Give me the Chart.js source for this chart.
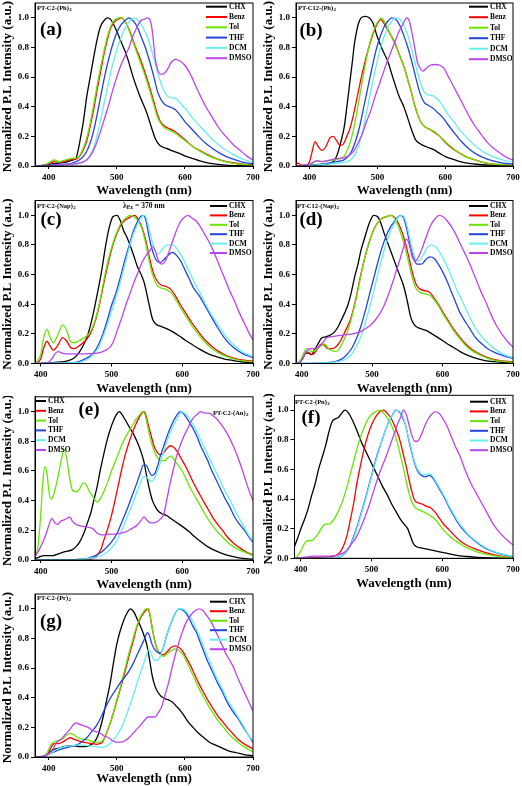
<!DOCTYPE html>
<html>
<head>
<meta charset="utf-8">
<script src="https://cdn.jsdelivr.net/npm/chart.js@4.4.0/dist/chart.umd.min.js"></script>
<style>
  body { margin: 0; background: #fff; width: 522px; height: 786px; position: relative; overflow: hidden; }
  canvas { position: absolute; }
</style>
</head>
<body>
<canvas id="pa"></canvas>
<canvas id="pb"></canvas>
<canvas id="pc"></canvas>
<canvas id="pd"></canvas>
<canvas id="pe"></canvas>
<canvas id="pf"></canvas>
<canvas id="pg"></canvas>
<script>
// solvents / legend
const solvents = ['CHX', 'Benz', 'Tol', 'THF', 'DCM', 'DMSO'];
const solventColors = ['#000000', '#ff0000', '#66e600', '#2244dd', '#66eeee', '#bb44ee'];
const xTicks = [400, 500, 600, 700];
const yTicks = [0, 0.2, 0.4, 0.6, 0.8, 1.0];
const panelNames = ['PT-C2-(Ph)', 'PT-C12-(Ph)', 'PT-C2-(Nap)', 'PT-C12-(Nap)', 'PT-C2-(An)', 'PT-C2-(Pn)', 'PT-C2-(Pr)'];
const panelLetters = ['(a)', '(b)', '(c)', '(d)', '(e)', '(f)', '(g)'];

// (a) PT-C2-(Ph)2  [wavelength nm, normalized PL]
const a_CHX = [[380,0],[395,0.005],[405,0.015],[415,0.02],[425,0.025],[435,0.04],[440,0.05],[443,0.1],[446,0.17],[451,0.3],[456,0.47],[461,0.6],[466,0.73],[471,0.85],[476,0.94],[481,0.98],[486,1.0],[491,0.99],[500,0.91],[508,0.82],[515,0.74],[524,0.6],[534,0.47],[544,0.36],[551,0.26],[557,0.18],[563,0.14],[572,0.12],[583,0.1],[592,0.085],[602,0.065],[612,0.05],[622,0.035],[635,0.02],[646,0.012],[660,0.006],[680,0.002],[700,0]];
const a_Benz = [[380,0],[395,0.005],[405,0.025],[410,0.035],[418,0.025],[425,0.035],[435,0.045],[442,0.05],[450,0.1],[456,0.17],[461,0.27],[466,0.38],[471,0.51],[476,0.63],[481,0.75],[486,0.85],[491,0.93],[496,0.97],[502,0.99],[507,1.0],[513,0.97],[520,0.9],[526,0.82],[533,0.74],[540,0.65],[547,0.55],[554,0.44],[559,0.36],[564,0.3],[570,0.27],[578,0.25],[585,0.235],[592,0.21],[602,0.17],[612,0.13],[622,0.105],[634,0.075],[646,0.05],[658,0.033],[670,0.022],[685,0.012],[700,0.007]];
const a_Tol = [[380,0],[395,0.008],[403,0.03],[408,0.042],[414,0.03],[420,0.035],[428,0.045],[435,0.052],[442,0.055],[450,0.11],[456,0.19],[461,0.29],[466,0.41],[471,0.54],[476,0.66],[481,0.77],[486,0.87],[491,0.94],[496,0.98],[502,1.0],[508,1.0],[514,0.96],[520,0.89],[526,0.81],[533,0.72],[540,0.63],[547,0.53],[554,0.42],[559,0.34],[564,0.29],[570,0.26],[578,0.24],[585,0.225],[592,0.2],[602,0.165],[612,0.13],[622,0.1],[634,0.07],[646,0.048],[658,0.032],[670,0.02],[685,0.01],[700,0.005]];
const a_THF = [[380,0],[400,0.005],[420,0.01],[435,0.02],[445,0.04],[452,0.07],[458,0.12],[464,0.2],[470,0.32],[476,0.46],[482,0.6],[488,0.72],[494,0.82],[500,0.9],[506,0.95],[512,0.98],[518,1.0],[524,0.98],[530,0.94],[536,0.87],[542,0.8],[548,0.71],[554,0.61],[560,0.5],[566,0.44],[572,0.41],[580,0.395],[586,0.38],[592,0.35],[600,0.3],[610,0.25],[620,0.2],[630,0.155],[640,0.12],[650,0.09],[660,0.065],[672,0.045],[686,0.025],[700,0.015]];
const a_DCM = [[380,0],[400,0.003],[430,0.01],[445,0.02],[455,0.04],[462,0.08],[468,0.15],[474,0.26],[480,0.39],[486,0.52],[492,0.65],[498,0.75],[504,0.84],[510,0.91],[516,0.96],[522,0.99],[526,1.0],[532,0.98],[538,0.94],[544,0.88],[550,0.8],[556,0.7],[562,0.6],[568,0.52],[575,0.47],[582,0.46],[588,0.45],[594,0.42],[602,0.38],[612,0.32],[622,0.27],[632,0.22],[645,0.16],[658,0.115],[672,0.075],[686,0.045],[700,0.025]];
const a_DMSO = [[380,0],[400,0.003],[420,0.008],[435,0.012],[445,0.02],[452,0.03],[458,0.05],[464,0.09],[470,0.15],[476,0.23],[482,0.32],[488,0.41],[494,0.51],[500,0.6],[506,0.68],[512,0.74],[518,0.8],[524,0.88],[530,0.94],[535,0.98],[540,0.99],[545,1.0],[550,0.97],[553,0.88],[556,0.74],[560,0.65],[564,0.62],[568,0.62],[574,0.65],[580,0.7],[586,0.72],[592,0.71],[600,0.68],[608,0.62],[616,0.54],[624,0.46],[632,0.39],[640,0.33],[648,0.27],[656,0.22],[664,0.18],[672,0.14],[680,0.11],[690,0.07],[700,0.04]];

// (b) PT-C12-(Ph)2
const b_CHX = [[380,0],[400,0.005],[420,0.01],[432,0.02],[437,0.04],[441,0.08],[446,0.16],[451,0.26],[455,0.4],[459,0.55],[463,0.7],[466,0.82],[469,0.9],[472,0.96],[476,1.0],[482,1.01],[488,1.0],[493,0.97],[500,0.87],[507,0.79],[515,0.71],[524,0.58],[532,0.47],[539,0.4],[545,0.32],[550,0.25],[556,0.18],[563,0.15],[572,0.13],[583,0.11],[592,0.085],[602,0.06],[612,0.045],[622,0.03],[635,0.018],[650,0.01],[670,0.004],[700,0]];
const b_Benz = [[380,0.01],[383,0.02],[388,0.005],[395,0.005],[400,0.03],[404,0.1],[408,0.165],[413,0.13],[418,0.105],[424,0.13],[430,0.19],[435,0.2],[440,0.17],[445,0.14],[450,0.15],[455,0.2],[460,0.26],[465,0.35],[470,0.46],[475,0.57],[480,0.67],[485,0.76],[490,0.84],[495,0.91],[500,0.96],[505,0.99],[510,0.96],[515,0.92],[520,0.88],[525,0.84],[530,0.78],[535,0.72],[540,0.66],[545,0.58],[550,0.5],[555,0.41],[560,0.34],[565,0.29],[570,0.265],[578,0.245],[585,0.225],[592,0.2],[600,0.16],[610,0.12],[620,0.09],[632,0.06],[645,0.04],[660,0.02],[680,0.01],[700,0.005]];
const b_Tol = [[380,0],[395,0.003],[405,0.02],[410,0.035],[418,0.03],[425,0.035],[435,0.04],[445,0.05],[450,0.06],[455,0.1],[460,0.16],[465,0.25],[470,0.37],[475,0.5],[480,0.63],[485,0.75],[490,0.85],[495,0.92],[500,0.97],[506,1.0],[512,0.96],[518,0.9],[524,0.84],[530,0.78],[535,0.72],[540,0.66],[545,0.58],[550,0.5],[555,0.41],[560,0.34],[565,0.29],[570,0.265],[578,0.245],[585,0.23],[592,0.2],[600,0.165],[610,0.125],[620,0.09],[632,0.06],[645,0.04],[660,0.02],[680,0.01],[700,0.005]];
const b_THF = [[380,0],[400,0.005],[420,0.015],[440,0.03],[450,0.04],[456,0.06],[462,0.1],[468,0.17],[474,0.27],[480,0.4],[486,0.53],[492,0.66],[498,0.78],[504,0.87],[510,0.94],[516,0.98],[521,1.0],[527,0.99],[533,0.95],[539,0.88],[545,0.8],[551,0.7],[557,0.59],[563,0.49],[569,0.43],[575,0.41],[582,0.39],[589,0.36],[596,0.33],[604,0.28],[614,0.22],[624,0.165],[634,0.12],[646,0.08],[660,0.05],[680,0.025],[700,0.012]];
const b_DCM = [[380,0],[400,0.005],[430,0.015],[450,0.025],[460,0.04],[466,0.07],[472,0.13],[478,0.23],[484,0.36],[490,0.5],[496,0.63],[502,0.75],[508,0.85],[514,0.92],[520,0.97],[527,1.0],[533,0.99],[539,0.95],[545,0.88],[551,0.78],[557,0.67],[563,0.57],[569,0.5],[575,0.48],[582,0.475],[589,0.45],[596,0.41],[604,0.35],[614,0.29],[624,0.23],[634,0.18],[646,0.13],[660,0.085],[672,0.06],[686,0.04],[700,0.025]];
const b_DMSO = [[380,0],[395,0.005],[405,0.025],[410,0.035],[418,0.03],[430,0.04],[440,0.05],[450,0.055],[458,0.07],[465,0.1],[472,0.16],[478,0.22],[484,0.3],[490,0.37],[496,0.46],[502,0.54],[508,0.62],[514,0.7],[520,0.77],[526,0.84],[532,0.91],[538,0.96],[543,1.0],[547,0.98],[551,0.9],[555,0.8],[559,0.7],[563,0.66],[567,0.64],[572,0.66],[578,0.68],[585,0.685],[592,0.68],[598,0.66],[605,0.6],[612,0.54],[620,0.47],[628,0.4],[636,0.33],[644,0.27],[652,0.22],[660,0.17],[670,0.125],[680,0.09],[690,0.06],[700,0.04]];

// (c) PT-C2-(Nap)2
const c_CHX = [[392,0],[405,0.003],[420,0.008],[435,0.015],[445,0.03],[452,0.06],[460,0.12],[467,0.2],[474,0.33],[480,0.47],[486,0.62],[492,0.8],[497,0.92],[502,0.99],[508,1.0],[512,0.97],[517,0.9],[522,0.85],[527,0.79],[532,0.72],[537,0.65],[542,0.6],[546,0.55],[550,0.47],[554,0.38],[558,0.3],[563,0.265],[570,0.25],[578,0.235],[588,0.21],[596,0.185],[605,0.155],[615,0.125],[625,0.095],[637,0.065],[649,0.045],[660,0.03],[672,0.02],[686,0.01],[700,0.005]];
const c_Benz = [[392,0],[400,0.03],[404,0.1],[409,0.15],[413,0.12],[418,0.09],[424,0.12],[431,0.175],[437,0.15],[442,0.11],[447,0.1],[453,0.115],[460,0.14],[466,0.17],[472,0.22],[478,0.3],[484,0.42],[490,0.56],[496,0.69],[502,0.8],[508,0.88],[514,0.94],[520,0.97],[527,0.99],[533,1.0],[538,0.97],[543,0.92],[548,0.84],[553,0.73],[558,0.63],[564,0.56],[570,0.53],[577,0.52],[584,0.5],[590,0.46],[597,0.4],[605,0.34],[613,0.28],[622,0.22],[632,0.16],[642,0.115],[652,0.08],[664,0.05],[678,0.03],[700,0.015]];
const c_Tol = [[392,0],[400,0.06],[404,0.17],[409,0.23],[413,0.18],[418,0.14],[424,0.19],[431,0.26],[437,0.22],[442,0.15],[447,0.14],[453,0.15],[460,0.17],[466,0.19],[472,0.23],[478,0.31],[484,0.43],[490,0.58],[496,0.71],[502,0.81],[508,0.89],[514,0.95],[520,0.98],[526,1.0],[532,0.99],[538,0.96],[543,0.91],[548,0.82],[553,0.7],[558,0.6],[564,0.53],[570,0.51],[577,0.5],[584,0.48],[590,0.44],[597,0.38],[605,0.32],[613,0.26],[622,0.2],[632,0.145],[642,0.1],[652,0.07],[664,0.045],[678,0.025],[700,0.01]];
const c_THF = [[392,0],[420,0.002],[445,0.005],[455,0.015],[462,0.03],[470,0.05],[476,0.08],[482,0.13],[488,0.2],[494,0.29],[500,0.39],[506,0.47],[512,0.57],[518,0.68],[524,0.78],[530,0.88],[536,0.95],[541,0.99],[545,1.0],[549,0.96],[553,0.86],[558,0.76],[563,0.7],[568,0.68],[574,0.7],[580,0.73],[586,0.75],[592,0.73],[598,0.69],[604,0.63],[610,0.57],[616,0.51],[625,0.45],[637,0.35],[649,0.25],[660,0.17],[672,0.11],[686,0.065],[700,0.04]];
const c_DCM = [[392,0],[420,0.002],[450,0.005],[460,0.015],[470,0.04],[476,0.07],[482,0.11],[488,0.18],[494,0.26],[500,0.35],[506,0.44],[512,0.54],[518,0.65],[524,0.76],[530,0.86],[536,0.93],[541,0.98],[547,1.0],[551,0.95],[556,0.85],[561,0.77],[566,0.74],[572,0.77],[578,0.8],[584,0.8],[590,0.79],[596,0.75],[602,0.7],[608,0.64],[614,0.58],[620,0.52],[626,0.47],[632,0.41],[640,0.34],[648,0.28],[656,0.22],[664,0.17],[674,0.12],[686,0.075],[700,0.045]];
const c_DMSO = [[392,0],[405,0.003],[412,0.01],[417,0.04],[421,0.07],[425,0.08],[430,0.07],[436,0.065],[445,0.065],[455,0.065],[465,0.065],[475,0.068],[485,0.075],[492,0.09],[498,0.11],[503,0.15],[508,0.22],[514,0.3],[520,0.39],[526,0.47],[532,0.55],[538,0.62],[544,0.69],[549,0.73],[554,0.76],[558,0.79],[562,0.76],[566,0.7],[571,0.67],[576,0.69],[581,0.75],[586,0.82],[592,0.9],[598,0.96],[604,0.99],[608,1.0],[614,0.98],[620,0.96],[626,0.92],[632,0.87],[638,0.82],[644,0.76],[650,0.69],[656,0.62],[662,0.55],[668,0.48],[674,0.42],[680,0.35],[688,0.27],[695,0.2],[700,0.16]];

// (d) PT-C12-(Nap)2
const d_CHX = [[392,0],[398,0.01],[402,0.04],[406,0.07],[410,0.07],[414,0.06],[418,0.09],[423,0.13],[428,0.17],[434,0.18],[440,0.19],[446,0.21],[452,0.25],[456,0.29],[461,0.34],[466,0.4],[471,0.49],[475,0.58],[480,0.67],[484,0.76],[489,0.84],[494,0.92],[498,0.97],[502,1.0],[508,0.99],[513,0.94],[517,0.88],[524,0.79],[531,0.7],[538,0.61],[545,0.52],[550,0.42],[555,0.31],[560,0.26],[566,0.24],[572,0.23],[578,0.22],[585,0.2],[592,0.18],[600,0.155],[606,0.135],[615,0.11],[625,0.08],[636,0.055],[648,0.035],[660,0.02],[672,0.012],[686,0.007],[700,0.004]];
const d_Benz = [[392,0],[398,0.01],[403,0.05],[407,0.08],[411,0.07],[415,0.06],[420,0.08],[428,0.13],[433,0.12],[437,0.1],[443,0.1],[448,0.11],[452,0.13],[456,0.16],[462,0.22],[468,0.28],[472,0.34],[478,0.46],[484,0.6],[490,0.72],[496,0.82],[502,0.9],[508,0.95],[514,0.98],[520,0.99],[527,1.0],[533,0.98],[538,0.94],[543,0.88],[548,0.8],[553,0.7],[558,0.6],[563,0.53],[569,0.5],[576,0.49],[582,0.48],[588,0.44],[594,0.4],[600,0.35],[608,0.29],[616,0.23],[624,0.18],[632,0.135],[642,0.095],[652,0.065],[664,0.04],[678,0.022],[700,0.01]];
const d_Tol = [[392,0],[398,0.02],[403,0.07],[407,0.1],[411,0.09],[415,0.08],[420,0.09],[428,0.12],[433,0.13],[438,0.1],[444,0.085],[448,0.08],[452,0.09],[456,0.12],[462,0.18],[468,0.26],[472,0.33],[478,0.45],[484,0.59],[490,0.72],[496,0.82],[502,0.9],[508,0.95],[514,0.98],[520,0.99],[526,1.0],[532,0.98],[537,0.93],[542,0.86],[547,0.78],[552,0.68],[557,0.58],[562,0.51],[568,0.48],[575,0.47],[582,0.46],[588,0.43],[594,0.39],[600,0.34],[608,0.28],[616,0.22],[624,0.17],[632,0.125],[642,0.085],[652,0.06],[664,0.035],[678,0.018],[700,0.008]];
const d_THF = [[392,0],[420,0.003],[440,0.008],[452,0.02],[460,0.04],[466,0.07],[472,0.11],[478,0.17],[484,0.25],[490,0.35],[496,0.46],[502,0.57],[508,0.68],[514,0.78],[520,0.86],[526,0.92],[532,0.96],[537,0.99],[541,1.0],[545,0.98],[549,0.91],[554,0.8],[559,0.71],[564,0.67],[570,0.67],[576,0.7],[582,0.72],[588,0.71],[594,0.67],[600,0.62],[606,0.56],[612,0.49],[618,0.42],[624,0.35],[630,0.3],[638,0.24],[646,0.18],[654,0.14],[664,0.1],[676,0.07],[688,0.05],[700,0.035]];
const d_DCM = [[392,0],[420,0.003],[445,0.008],[458,0.02],[466,0.04],[472,0.07],[478,0.12],[484,0.18],[490,0.27],[496,0.37],[502,0.48],[508,0.6],[514,0.71],[520,0.81],[526,0.89],[532,0.95],[538,0.99],[543,1.0],[547,0.97],[551,0.9],[556,0.79],[561,0.71],[566,0.69],[572,0.73],[578,0.78],[584,0.8],[590,0.79],[596,0.75],[602,0.7],[608,0.64],[614,0.57],[620,0.5],[626,0.44],[632,0.38],[640,0.3],[648,0.23],[656,0.18],[666,0.13],[678,0.085],[690,0.055],[700,0.04]];
const d_DMSO = [[392,0],[398,0.01],[403,0.05],[408,0.09],[412,0.1],[418,0.1],[424,0.11],[430,0.14],[435,0.17],[440,0.18],[448,0.185],[456,0.19],[464,0.195],[472,0.2],[480,0.21],[486,0.22],[492,0.24],[498,0.26],[504,0.29],[510,0.33],[516,0.38],[522,0.45],[528,0.53],[534,0.62],[540,0.71],[545,0.79],[549,0.84],[553,0.8],[557,0.72],[561,0.69],[566,0.72],[572,0.79],[578,0.87],[584,0.94],[590,0.98],[595,1.0],[601,0.99],[607,0.96],[613,0.92],[619,0.87],[625,0.81],[631,0.75],[637,0.69],[643,0.62],[649,0.55],[655,0.48],[661,0.42],[668,0.34],[676,0.26],[684,0.2],[692,0.15],[700,0.11]];

// (e) PT-C2-(An)2
const e_CHX = [[392,0.01],[398,0.02],[404,0.03],[410,0.03],[418,0.03],[424,0.04],[430,0.05],[438,0.06],[445,0.07],[450,0.09],[455,0.12],[461,0.18],[466,0.25],[471,0.32],[475,0.4],[480,0.5],[484,0.6],[489,0.71],[494,0.81],[499,0.89],[503,0.94],[507,0.98],[511,1.0],[515,0.98],[520,0.94],[526,0.89],[531,0.85],[536,0.8],[541,0.74],[546,0.66],[550,0.56],[554,0.47],[558,0.4],[562,0.36],[566,0.33],[572,0.31],[578,0.3],[584,0.28],[590,0.26],[596,0.24],[602,0.22],[610,0.19],[618,0.155],[626,0.125],[636,0.09],[646,0.065],[656,0.045],[666,0.03],[680,0.015],[700,0.005]];
const e_Benz = [[392,0],[450,0],[470,0.005],[476,0.015],[480,0.035],[485,0.07],[489,0.13],[494,0.2],[499,0.28],[504,0.38],[509,0.49],[514,0.6],[519,0.7],[524,0.78],[529,0.85],[534,0.91],[539,0.96],[543,0.99],[546,1.0],[549,0.97],[552,0.91],[556,0.84],[560,0.77],[564,0.73],[568,0.71],[573,0.72],[578,0.75],[583,0.77],[588,0.76],[593,0.73],[599,0.68],[606,0.62],[612,0.56],[618,0.5],[625,0.44],[632,0.38],[638,0.33],[644,0.28],[650,0.24],[657,0.2],[663,0.16],[670,0.125],[676,0.1],[682,0.08],[690,0.055],[700,0.035]];
const e_Tol = [[392,0.02],[396,0.08],[400,0.3],[403,0.52],[406,0.63],[409,0.58],[412,0.45],[415,0.41],[419,0.45],[424,0.55],[429,0.67],[433,0.74],[437,0.68],[441,0.55],[445,0.47],[450,0.46],[455,0.48],[460,0.52],[464,0.51],[468,0.47],[472,0.44],[476,0.41],[480,0.39],[485,0.42],[490,0.47],[495,0.53],[500,0.6],[505,0.66],[510,0.72],[515,0.78],[520,0.83],[525,0.87],[530,0.91],[535,0.95],[540,0.98],[544,1.0],[548,0.97],[552,0.88],[556,0.8],[560,0.74],[565,0.69],[570,0.67],[575,0.67],[580,0.69],[584,0.7],[588,0.68],[594,0.64],[600,0.6],[606,0.54],[612,0.48],[618,0.43],[625,0.37],[632,0.31],[640,0.25],[648,0.2],[656,0.16],[664,0.12],[672,0.09],[680,0.07],[690,0.05],[700,0.03]];
const e_THF = [[392,0],[440,0],[455,0.005],[465,0.01],[475,0.025],[485,0.05],[492,0.08],[500,0.12],[508,0.18],[515,0.26],[522,0.34],[529,0.43],[536,0.52],[541,0.59],[545,0.64],[549,0.64],[553,0.6],[557,0.57],[561,0.58],[565,0.63],[569,0.7],[574,0.77],[579,0.84],[584,0.9],[589,0.95],[593,0.98],[597,1.0],[601,0.99],[606,0.96],[611,0.92],[616,0.88],[621,0.83],[626,0.77],[631,0.72],[636,0.67],[641,0.61],[646,0.56],[653,0.49],[660,0.42],[667,0.36],[674,0.29],[681,0.24],[688,0.2],[695,0.15],[700,0.12]];
const e_DCM = [[392,0],[445,0],[460,0.005],[470,0.01],[480,0.02],[490,0.04],[498,0.07],[505,0.11],[512,0.17],[518,0.24],[524,0.31],[530,0.38],[536,0.46],[541,0.52],[545,0.56],[549,0.56],[553,0.54],[557,0.53],[561,0.55],[565,0.6],[570,0.67],[575,0.75],[580,0.82],[585,0.88],[590,0.93],[595,0.97],[599,1.0],[603,0.99],[608,0.97],[613,0.93],[618,0.89],[623,0.84],[628,0.79],[633,0.74],[638,0.69],[643,0.64],[648,0.59],[655,0.52],[662,0.45],[669,0.39],[676,0.32],[683,0.26],[690,0.2],[695,0.16],[700,0.13]];
const e_DMSO = [[392,0.02],[398,0.07],[403,0.12],[408,0.18],[412,0.24],[416,0.28],[420,0.25],[424,0.24],[428,0.26],[433,0.27],[437,0.28],[441,0.29],[445,0.26],[450,0.24],[456,0.23],[462,0.225],[468,0.22],[474,0.21],[480,0.18],[486,0.17],[492,0.17],[498,0.175],[505,0.175],[512,0.18],[520,0.19],[528,0.21],[535,0.23],[541,0.26],[546,0.29],[550,0.27],[555,0.25],[560,0.25],[565,0.26],[570,0.28],[574,0.31],[578,0.4],[583,0.52],[588,0.62],[592,0.7],[597,0.77],[602,0.83],[607,0.88],[611,0.92],[616,0.96],[621,0.98],[626,1.0],[632,0.99],[638,0.99],[644,0.97],[649,0.95],[654,0.92],[660,0.88],[666,0.83],[672,0.77],[678,0.7],[684,0.62],[690,0.53],[695,0.46],[700,0.4]];

// (f) PT-C2-(Pn)2
const f_CHX = [[391,0.08],[395,0.13],[400,0.2],[405,0.26],[410,0.33],[415,0.42],[420,0.5],[425,0.6],[430,0.68],[435,0.76],[440,0.86],[444,0.92],[448,0.94],[453,0.95],[458,0.98],[462,1.0],[466,0.99],[471,0.95],[476,0.9],[481,0.84],[486,0.78],[492,0.72],[498,0.66],[504,0.6],[510,0.54],[516,0.48],[522,0.43],[528,0.37],[534,0.32],[540,0.27],[546,0.23],[551,0.2],[555,0.15],[559,0.1],[563,0.08],[570,0.07],[580,0.06],[590,0.05],[600,0.04],[610,0.03],[620,0.02],[635,0.012],[650,0.006],[670,0.002],[700,0]];
const f_Benz = [[391,0],[420,0.005],[440,0.01],[450,0.02],[455,0.04],[460,0.08],[465,0.15],[470,0.26],[475,0.38],[479,0.5],[484,0.62],[489,0.73],[494,0.82],[499,0.89],[504,0.94],[508,0.97],[512,0.99],[517,1.0],[522,0.98],[527,0.95],[532,0.9],[537,0.84],[541,0.78],[545,0.7],[549,0.62],[553,0.53],[557,0.45],[561,0.39],[566,0.375],[572,0.365],[578,0.35],[584,0.34],[590,0.31],[596,0.27],[602,0.23],[610,0.19],[618,0.15],[626,0.115],[636,0.085],[648,0.06],[660,0.04],[672,0.025],[686,0.012],[700,0.005]];
const f_Tol = [[391,0],[396,0.02],[400,0.05],[404,0.09],[408,0.115],[412,0.12],[416,0.12],[420,0.14],[425,0.17],[430,0.21],[435,0.23],[440,0.23],[445,0.25],[450,0.29],[455,0.34],[460,0.4],[465,0.48],[470,0.57],[475,0.66],[480,0.75],[485,0.83],[490,0.89],[495,0.94],[500,0.97],[506,0.99],[512,1.0],[517,0.98],[522,0.95],[527,0.91],[532,0.85],[537,0.77],[541,0.69],[545,0.61],[549,0.52],[553,0.44],[557,0.38],[562,0.34],[568,0.325],[575,0.31],[582,0.29],[588,0.27],[594,0.24],[600,0.2],[608,0.16],[616,0.125],[625,0.1],[635,0.07],[648,0.045],[660,0.03],[672,0.018],[686,0.01],[700,0.005]];
const f_THF = [[391,0],[420,0],[445,0.003],[455,0.01],[460,0.02],[465,0.05],[470,0.09],[475,0.15],[480,0.22],[485,0.3],[490,0.38],[495,0.47],[500,0.56],[505,0.65],[510,0.73],[515,0.8],[520,0.87],[525,0.93],[530,0.97],[534,1.0],[539,0.99],[544,0.95],[549,0.88],[553,0.79],[557,0.71],[561,0.64],[565,0.59],[570,0.56],[576,0.55],[582,0.56],[587,0.54],[592,0.5],[598,0.45],[604,0.4],[610,0.34],[616,0.29],[622,0.24],[630,0.19],[638,0.15],[648,0.11],[660,0.07],[672,0.045],[686,0.025],[700,0.012]];
const f_DCM = [[391,0],[420,0],[445,0.003],[455,0.01],[460,0.02],[465,0.045],[470,0.085],[475,0.14],[480,0.21],[485,0.29],[490,0.37],[495,0.46],[500,0.55],[505,0.64],[510,0.72],[515,0.8],[520,0.87],[525,0.93],[530,0.97],[535,1.0],[540,0.99],[545,0.95],[549,0.88],[553,0.8],[557,0.72],[561,0.65],[565,0.6],[570,0.57],[576,0.565],[582,0.57],[587,0.55],[592,0.51],[598,0.46],[604,0.41],[610,0.35],[616,0.3],[622,0.25],[630,0.2],[638,0.155],[648,0.115],[660,0.075],[672,0.048],[686,0.028],[700,0.014]];
const f_DMSO = [[391,0],[400,0.005],[410,0.01],[420,0.015],[430,0.015],[440,0.015],[450,0.02],[460,0.035],[466,0.06],[472,0.1],[478,0.14],[484,0.2],[490,0.27],[496,0.35],[502,0.44],[508,0.53],[514,0.61],[520,0.68],[526,0.76],[532,0.84],[537,0.91],[541,0.95],[545,1.0],[549,0.97],[553,0.9],[557,0.83],[561,0.79],[565,0.79],[570,0.83],[575,0.89],[580,0.94],[585,0.97],[590,0.99],[595,0.98],[600,0.95],[606,0.9],[612,0.83],[618,0.76],[625,0.69],[632,0.6],[640,0.51],[648,0.44],[656,0.37],[664,0.3],[672,0.23],[680,0.18],[690,0.13],[700,0.09]];

// (g) PT-C2-(Pr)2
const g_CHX = [[380,0],[392,0.005],[400,0.03],[407,0.05],[415,0.06],[422,0.07],[430,0.075],[438,0.075],[446,0.07],[454,0.07],[461,0.08],[467,0.1],[472,0.14],[476,0.2],[480,0.27],[485,0.38],[490,0.49],[495,0.63],[500,0.76],[505,0.85],[510,0.92],[515,0.97],[520,1.0],[525,0.98],[530,0.93],[535,0.88],[540,0.82],[544,0.76],[548,0.66],[552,0.55],[556,0.48],[560,0.44],[565,0.41],[570,0.395],[576,0.385],[582,0.37],[588,0.34],[594,0.31],[600,0.27],[606,0.23],[612,0.2],[620,0.16],[628,0.13],[636,0.1],[645,0.08],[655,0.06],[665,0.04],[675,0.03],[688,0.015],[700,0.008]];
const g_Benz = [[380,0],[392,0.002],[398,0.02],[403,0.06],[408,0.09],[414,0.09],[420,0.1],[427,0.12],[432,0.13],[437,0.12],[443,0.11],[450,0.1],[457,0.095],[464,0.09],[470,0.085],[475,0.09],[479,0.1],[484,0.15],[489,0.21],[494,0.28],[499,0.36],[504,0.44],[509,0.52],[514,0.61],[519,0.7],[524,0.78],[529,0.87],[534,0.93],[539,0.97],[543,0.99],[546,1.0],[549,0.95],[552,0.87],[555,0.8],[559,0.73],[563,0.7],[568,0.69],[574,0.71],[580,0.74],[586,0.75],[591,0.74],[596,0.72],[602,0.67],[608,0.62],[614,0.56],[620,0.5],[627,0.44],[634,0.38],[641,0.33],[648,0.28],[655,0.24],[662,0.2],[670,0.16],[678,0.12],[688,0.085],[700,0.055]];
const g_Tol = [[380,0],[392,0.003],[398,0.03],[403,0.08],[408,0.1],[414,0.11],[420,0.12],[427,0.15],[432,0.16],[437,0.15],[443,0.13],[450,0.12],[457,0.115],[464,0.105],[470,0.1],[475,0.1],[479,0.11],[484,0.15],[489,0.21],[494,0.28],[499,0.37],[504,0.45],[509,0.54],[514,0.63],[519,0.72],[524,0.8],[529,0.88],[534,0.94],[539,0.98],[543,1.0],[547,1.0],[550,0.93],[553,0.85],[556,0.78],[560,0.72],[564,0.69],[569,0.68],[575,0.7],[581,0.72],[586,0.73],[591,0.72],[596,0.7],[602,0.65],[608,0.59],[614,0.53],[620,0.47],[627,0.41],[634,0.35],[641,0.3],[648,0.25],[655,0.21],[662,0.17],[670,0.13],[678,0.1],[688,0.065],[700,0.035]];
const g_THF = [[380,0],[392,0.005],[400,0.02],[408,0.035],[416,0.05],[424,0.06],[432,0.07],[440,0.08],[448,0.1],[456,0.13],[463,0.17],[470,0.21],[477,0.27],[484,0.34],[491,0.4],[498,0.45],[505,0.5],[512,0.54],[518,0.58],[524,0.63],[530,0.69],[536,0.75],[541,0.8],[545,0.84],[548,0.82],[551,0.77],[555,0.73],[559,0.71],[563,0.7],[567,0.72],[572,0.8],[577,0.87],[582,0.93],[587,0.98],[592,1.0],[597,0.99],[602,0.97],[607,0.93],[612,0.88],[617,0.84],[622,0.78],[627,0.72],[632,0.66],[637,0.61],[642,0.56],[648,0.5],[655,0.44],[662,0.37],[670,0.31],[678,0.26],[686,0.2],[693,0.15],[700,0.1]];
const g_DCM = [[380,0],[392,0.005],[400,0.02],[408,0.04],[416,0.06],[424,0.07],[432,0.075],[440,0.08],[450,0.08],[460,0.075],[470,0.07],[478,0.065],[484,0.07],[490,0.09],[496,0.12],[502,0.16],[508,0.21],[514,0.28],[520,0.36],[526,0.44],[532,0.53],[538,0.61],[543,0.68],[547,0.73],[550,0.7],[554,0.66],[558,0.65],[562,0.66],[567,0.72],[572,0.8],[577,0.87],[582,0.93],[587,0.98],[592,1.0],[597,1.0],[602,0.98],[607,0.95],[612,0.91],[617,0.86],[622,0.81],[627,0.75],[632,0.69],[637,0.64],[642,0.58],[648,0.52],[655,0.46],[662,0.39],[670,0.33],[678,0.27],[686,0.21],[693,0.15],[700,0.11]];
const g_DMSO = [[380,0],[392,0.005],[400,0.02],[406,0.05],[412,0.1],[418,0.12],[424,0.15],[430,0.18],[435,0.21],[440,0.23],[446,0.22],[452,0.21],[458,0.2],[464,0.18],[470,0.17],[476,0.16],[482,0.14],[488,0.13],[494,0.11],[500,0.1],[506,0.1],[512,0.11],[518,0.13],[524,0.16],[530,0.19],[536,0.22],[541,0.25],[546,0.27],[551,0.27],[556,0.27],[561,0.3],[566,0.34],[571,0.42],[576,0.5],[581,0.6],[586,0.69],[591,0.77],[596,0.84],[601,0.9],[606,0.94],[611,0.97],[616,0.99],[621,1.0],[626,0.99],[631,0.96],[636,0.93],[641,0.89],[646,0.84],[651,0.79],[656,0.74],[661,0.69],[666,0.65],[671,0.61],[677,0.54],[683,0.48],[689,0.42],[695,0.36],[700,0.31]];

const panelSeries = [
  [a_CHX, a_Benz, a_Tol, a_THF, a_DCM, a_DMSO],
  [b_CHX, b_Benz, b_Tol, b_THF, b_DCM, b_DMSO],
  [c_CHX, c_Benz, c_Tol, c_THF, c_DCM, c_DMSO],
  [d_CHX, d_Benz, d_Tol, d_THF, d_DCM, d_DMSO],
  [e_CHX, e_Benz, e_Tol, e_THF, e_DCM, e_DMSO],
  [f_CHX, f_Benz, f_Tol, f_THF, f_DCM, f_DMSO],
  [g_CHX, g_Benz, g_Tol, g_THF, g_DCM, g_DMSO]
];
const panelXMin = [380, 380, 392, 392, 392, 391, 380];

// layout (page pixels): canvas box, plot box, legend [x0, x1, y0, dy], name, letter, x-title offset
const layouts = [
  { id: 'pa', cv: [0, 0, 261, 199],    plot: [35, 3, 253, 166],        leg: [206, 227, 6.7, 10.3],  name: [37, 8],    letter: [51, 30],  xt: 25 },
  { id: 'pb', cv: [261, 0, 261, 199],  plot: [296, 3, 513, 166],       leg: [469, 488, 6.7, 10.5],  name: [298, 8],   letter: [311, 31], xt: 25 },
  { id: 'pc', cv: [0, 199, 261, 197],  plot: [35, 200.5, 253, 363.5],  leg: [210, 227, 206, 9.4],   name: [37, 206],  letter: [51, 220], xt: 25, lex: [123, 206] },
  { id: 'pd', cv: [261, 199, 261, 197],plot: [296, 200.5, 513, 363.5], leg: [469, 488, 206, 9.4],   name: [297, 206], letter: [311, 220], xt: 25 },
  { id: 'pe', cv: [0, 396, 261, 195],  plot: [35, 396.8, 253, 560],    leg: [36, 46, 401, 9.8],     name: [213, 413], letter: [89, 410], xt: 25 },
  { id: 'pf', cv: [261, 394, 261, 197],plot: [294.5, 395.3, 513, 558.3], leg: [470, 488, 401.7, 9.7], name: [295, 402], letter: [311, 418], xt: 25 },
  { id: 'pg', cv: [0, 591, 261, 195],  plot: [35, 594, 253, 757],      leg: [210, 227, 601.7, 9.5], name: [37, 598],  letter: [51, 622], xt: 21.5 }
];

const FONT = "'Liberation Serif', 'Times New Roman', serif";

const deco = {
  id: 'deco',
  afterDraw(chart, args, o) {
    const ctx = chart.ctx, a = chart.chartArea;
    const ox = o.cv[0], oy = o.cv[1];
    ctx.save();
    ctx.strokeStyle = '#000';
    ctx.lineWidth = 1;
    ctx.strokeRect(a.left, a.top, a.right - a.left, a.bottom - a.top);

    // legend
    ctx.textAlign = 'left';
    ctx.textBaseline = 'middle';
    ctx.font = 'bold 7.5px ' + FONT;
    chart.data.datasets.forEach((ds, i) => {
      const y = o.leg[2] + i * o.leg[3] - oy;
      ctx.strokeStyle = ds.borderColor;
      ctx.lineWidth = 2;
      ctx.beginPath();
      ctx.moveTo(o.leg[0] - ox, y);
      ctx.lineTo(o.leg[1] - ox, y);
      ctx.stroke();
      ctx.fillStyle = '#000';
      ctx.fillText(ds.label, o.leg[1] + 2 - ox, y);
    });

    // compound name with subscript 2
    ctx.fillStyle = '#000';
    ctx.font = 'bold 6.5px ' + FONT;
    const nx = o.name[0] - ox, ny = o.name[1] - oy;
    ctx.fillText(o.title, nx, ny);
    const w = ctx.measureText(o.title).width;
    ctx.font = 'bold 5px ' + FONT;
    ctx.fillText('2', nx + w + 0.3, ny + 2);

    if (o.lex) {
      let x = o.lex[0] - ox;
      const y = o.lex[1] - oy;
      ctx.font = 'bold 7.5px ' + FONT;
      ctx.fillText('\u03bb', x, y);
      x += ctx.measureText('\u03bb').width;
      ctx.font = 'bold 5.5px ' + FONT;
      ctx.fillText('Ex', x, y + 2);
      x += ctx.measureText('Ex').width;
      ctx.font = 'bold 7.5px ' + FONT;
      ctx.fillText(' = 370 nm', x, y);
    }

    // panel letter
    ctx.textAlign = 'center';
    ctx.font = 'bold 19px ' + FONT;
    ctx.fillText(o.letter, o.letterPos[0] - ox, o.letterPos[1] - oy);

    // axis titles
    ctx.font = 'bold 13px ' + FONT;
    ctx.fillText('Wavelength (nm)', (a.left + a.right) / 2, a.bottom + o.xt);
    ctx.save();
    ctx.translate(8, (a.top + a.bottom) / 2 + 2);
    ctx.rotate(-Math.PI / 2);
    ctx.fillText('Normalized P.L Intensity (a.u.)', 0, 0);
    ctx.restore();
    ctx.restore();
  }
};

layouts.forEach((L, p) => {
  const cv = document.getElementById(L.id);
  cv.width = L.cv[2];
  cv.height = L.cv[3];
  cv.style.left = L.cv[0] + 'px';
  cv.style.top = L.cv[1] + 'px';
  const yW = L.plot[0] - L.cv[0];
  const xH = L.cv[1] + L.cv[3] - L.plot[3];
  const padTop = L.plot[1] - L.cv[1];
  const padRight = L.cv[0] + L.cv[2] - L.plot[2];

  const datasets = panelSeries[p].map((s, i) => ({
    label: solvents[i],
    data: s.map(q => ({ x: q[0], y: q[1] })),
    borderColor: solventColors[i],
    borderWidth: 1.3,
    pointRadius: 0,
    cubicInterpolationMode: 'monotone',
    fill: false,
    order: -i
  }));

  const tickFont = { family: FONT, size: 9, weight: 'bold' };

  new Chart(cv, {
    type: 'line',
    data: { datasets },
    options: {
      responsive: false,
      animation: false,
      devicePixelRatio: 1,
      layout: { padding: { top: padTop, right: padRight, left: 0, bottom: 0 } },
      plugins: {
        legend: { display: false },
        tooltip: { enabled: false },
        deco: { cv: L.cv, leg: L.leg, name: L.name, title: panelNames[p], letter: panelLetters[p], letterPos: L.letter, lex: L.lex, xt: L.xt }
      },
      scales: {
        x: {
          type: 'linear',
          min: panelXMin[p],
          max: 700,
          afterBuildTicks: s => { s.ticks = xTicks.map(v => ({ value: v })); },
          afterFit: s => { s.height = xH; s.paddingLeft = 0; s.paddingRight = 0; },
          ticks: { font: tickFont, color: '#000', padding: 3, maxRotation: 0, autoSkip: false },
          grid: { drawOnChartArea: false, drawTicks: true, tickLength: 3, color: '#000' },
          border: { display: true, color: '#000', width: 1 }
        },
        y: {
          min: 0,
          max: 1.1,
          afterBuildTicks: s => { s.ticks = yTicks.map(v => ({ value: v })); },
          afterFit: s => { s.width = yW; s.paddingTop = 0; s.paddingBottom = 0; },
          ticks: { font: tickFont, color: '#000', padding: 2, autoSkip: false, callback: v => v.toFixed(1) },
          grid: { drawOnChartArea: false, drawTicks: true, tickLength: 4, color: '#000' },
          border: { display: true, color: '#000', width: 1 }
        }
      }
    },
    plugins: [deco]
  });
});
</script>
</body>
</html>
